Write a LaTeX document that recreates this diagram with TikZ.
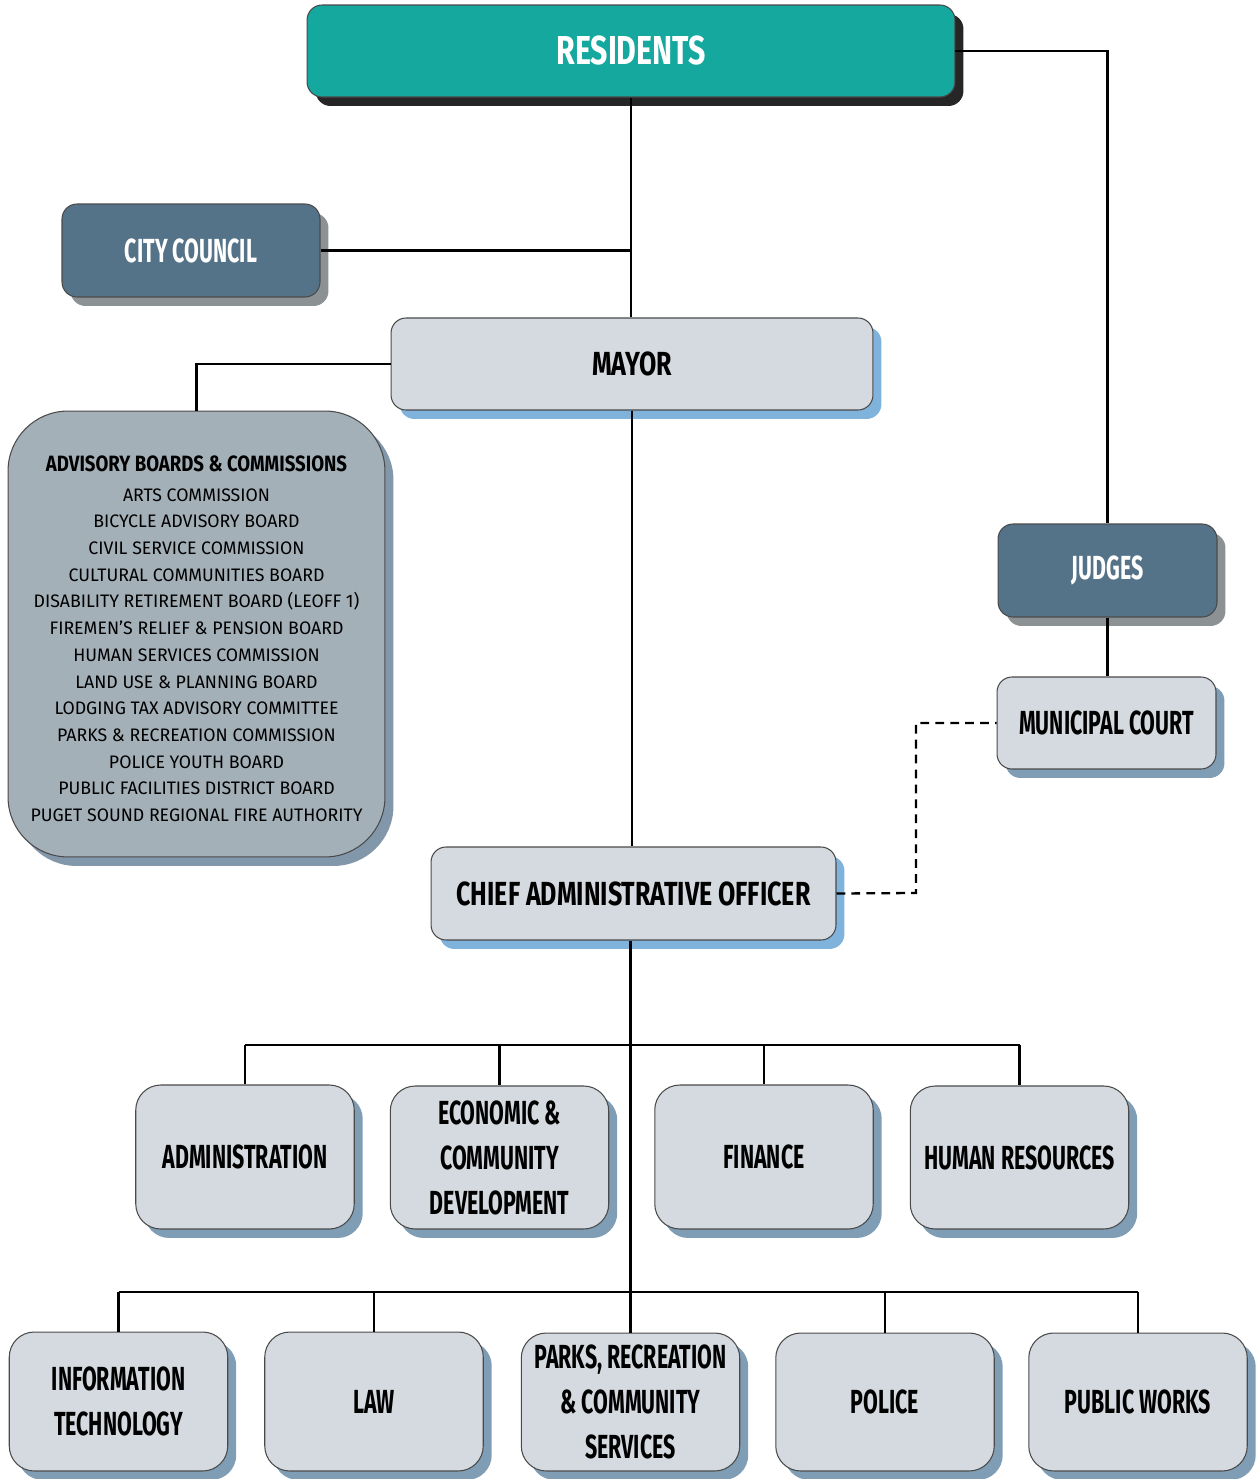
\documentclass[tikz,border=0pt]{standalone}
\usepackage{fontspec}
\setmainfont{Fira Sans}
\newfontfamily\condfont[FakeStretch=0.64]{Fira Sans}
\newfontfamily\widecond[FakeStretch=0.75]{Fira Sans}
\newfontfamily\titlefont[FakeStretch=0.84]{Fira Sans}
\newfontfamily\listfont[FakeStretch=0.98]{Fira Sans}
\usetikzlibrary{positioning,shadows,calc}
\definecolor{teal}{HTML}{14A89E}
\definecolor{tealshade}{HTML}{262626}
\definecolor{slate}{HTML}{557388}
\definecolor{slateshade}{HTML}{8C9194}
\definecolor{pale}{HTML}{D4DADF}
\definecolor{blueshade}{HTML}{80B3DC}
\definecolor{greyshade}{HTML}{7F9DB4}
\definecolor{advfill}{HTML}{A4B0B8}
\definecolor{advshade}{HTML}{8397AB}
\definecolor{edge}{HTML}{4A4A4A}
\tikzset{
  card/.style={draw=edge,line width=0.6pt,rounded corners=0.3cm,align=center,inner sep=2pt,
    font=\condfont\bfseries\fontsize{19}{25.6}\selectfont},
  shade/.style={drop shadow={opacity=1,fill=#1,shadow xshift=0.17cm,shadow yshift=-0.18cm}},
  dept/.style={card,fill=pale,rounded corners=0.5cm,minimum width=4.37cm,shade=greyshade},
  wire/.style={line width=1.3pt,color=black}
}
\begin{document}
\begin{tikzpicture}[x=0.02cm,y=-0.02cm]
  \useasboundingbox (0,0) rectangle (1255,1479);
  % top of the chart
  \node[card,fill=teal,text=white,minimum width=12.96cm,minimum height=1.84cm,shade=tealshade,
    font=\widecond\bfseries\fontsize{23}{28}\selectfont] (res) at (631,51) {RESIDENTS};
  \node[card,fill=slate,text=white,minimum width=5.16cm,minimum height=1.86cm,shade=slateshade] (council) at (191,250.5) {CITY COUNCIL};
  \node[card,fill=pale,minimum width=9.64cm,minimum height=1.84cm,shade=blueshade,
    font=\widecond\bfseries\fontsize{19}{25.6}\selectfont] (mayor) at (632,364) {MAYOR};
  \node[card,fill=advfill,rounded corners=1.2cm,minimum width=7.54cm,minimum height=8.92cm,shade=advshade,
    font=\listfont\fontsize{10.3}{15.2}\selectfont] (adv) at (196.5,634)
    {\rule{0pt}{14.5pt}{\titlefont\bfseries\fontsize{12.6}{15}\selectfont ADVISORY BOARDS \& COMMISSIONS}\\[1.5pt]
     ARTS COMMISSION\\ BICYCLE ADVISORY BOARD\\ CIVIL SERVICE COMMISSION\\
     CULTURAL COMMUNITIES BOARD\\ DISABILITY RETIREMENT BOARD (LEOFF 1)\\
     FIREMEN’S RELIEF \& PENSION BOARD\\ HUMAN SERVICES COMMISSION\\
     LAND USE \& PLANNING BOARD\\ LODGING TAX ADVISORY COMMITTEE\\
     PARKS \& RECREATION COMMISSION\\ POLICE YOUTH BOARD\\
     PUBLIC FACILITIES DISTRICT BOARD\\ PUGET SOUND REGIONAL FIRE AUTHORITY};
  \node[card,fill=slate,text=white,minimum width=4.38cm,minimum height=1.86cm,shade=slateshade] (judges) at (1107.5,570.5) {JUDGES};
  \node[card,fill=pale,minimum width=4.38cm,minimum height=1.84cm,shade=greyshade] (court) at (1106.5,723) {MUNICIPAL COURT};
  \node[card,fill=pale,minimum width=8.1cm,minimum height=1.86cm,shade=blueshade,
    font=\widecond\bfseries\fontsize{19}{25.6}\selectfont] (cao) at (633.5,893.5) {CHIEF ADMINISTRATIVE OFFICER};
  % departments
  \node[dept,minimum height=2.88cm] (admin) at (245,1157) {ADMINISTRATION};
  \node[dept,minimum height=2.86cm] (econ) at (499.5,1157.5) {ECONOMIC \&\\ COMMUNITY\\ DEVELOPMENT};
  \node[dept,minimum height=2.88cm] (fin) at (764,1157) {FINANCE};
  \node[dept,minimum height=2.86cm] (hr) at (1019.5,1157.5) {HUMAN RESOURCES};
  \node[dept,minimum height=2.78cm] (it) at (118.5,1401.5) {INFORMATION\\ TECHNOLOGY};
  \node[dept,minimum height=2.78cm] (law) at (374,1401.5) {LAW};
  \node[dept,minimum height=2.76cm] (parks) at (630.5,1402) {PARKS, RECREATION\\ \& COMMUNITY\\ SERVICES};
  \node[dept,minimum height=2.76cm] (police) at (885,1402) {POLICE};
  \node[dept,minimum height=2.76cm] (pw) at (1138,1402) {PUBLIC WORKS};
  % connectors
  \coordinate (bus1) at (0,1045);
  \coordinate (bus2) at (0,1292);
  \coordinate (bend) at (916,893);
  \draw[wire] (res.south) -- (res.south |- mayor.north);
  \draw[wire] (council.east) -- (council.east -| res.south);
  \draw[wire] (res.east) -| (judges.north);
  \draw[wire] (judges.south) -- (judges.south |- court.north);
  \draw[wire] (mayor.west) -| (adv.north);
  \draw[wire] (mayor.south) -- (mayor.south |- cao.north);
  \draw[wire,dashed,dash pattern=on 5pt off 3.5pt] (cao.east) -- (bend) |- (court.west);
  \draw[wire] (parks.north |- cao.south) -- (parks.north);
  \draw[wire] (admin.north |- bus1) -- (hr.north |- bus1);
  \draw[wire] (it.north |- bus2) -- (pw.north |- bus2);
  \foreach \d in {admin,econ,fin,hr} \draw[wire] (\d.north |- bus1) -- (\d.north);
  \foreach \d in {it,law,police,pw} \draw[wire] (\d.north |- bus2) -- (\d.north);
\end{tikzpicture}
\end{document}
